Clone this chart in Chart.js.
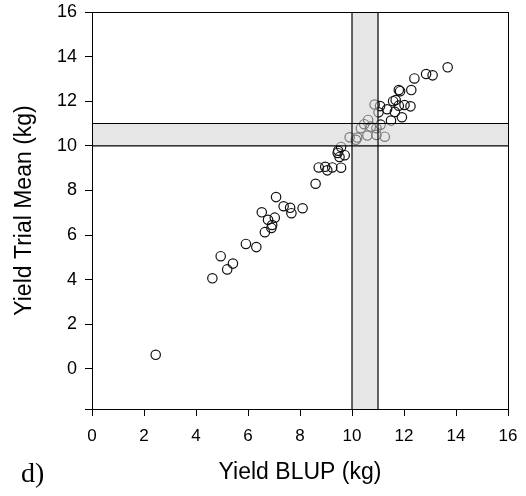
<!DOCTYPE html>
<html>
<head>
<meta charset="utf-8">
<script src="https://cdn.jsdelivr.net/npm/chart.js@4/dist/chart.umd.min.js"></script>
<style>
  html, body { margin: 0; padding: 0; background: #fff; }
  #wrap { width: 526px; height: 496px; position: relative; }
</style>
</head>
<body>
<div id="wrap"><canvas id="c" width="526" height="496"></canvas></div>
<script>
// ---- data ----
const blupValues = [2.45, 4.63, 4.95, 5.20, 5.42, 5.92, 6.32, 6.53, 6.65, 6.77, 6.93, 6.90, 7.03, 7.08, 7.37, 7.62, 7.67, 8.10,
  8.60, 8.72, 8.97, 9.05, 9.24, 9.58, 9.45, 9.52, 9.58, 9.72, 9.47, 9.91, 10.15, 10.20, 10.34, 10.47, 10.59, 10.62, 10.72, 10.94,
  10.94, 11.26, 11.10, 10.87, 11.08, 11.02, 11.35, 11.50, 11.58, 11.68, 11.65, 11.80, 12.02, 12.25, 11.92, 11.80, 11.85, 12.28,
  12.40, 12.85, 13.10, 13.68];
const trialValues = [0.63, 4.06, 5.05, 4.46, 4.72, 5.60, 5.46, 7.02, 6.13, 6.68, 6.45, 6.32, 6.78, 7.70, 7.29, 7.22, 6.98, 7.20,
  8.30, 9.03, 9.06, 8.90, 9.03, 9.02, 9.68, 9.50, 9.95, 9.58, 9.78, 10.38, 10.27, 10.37, 10.79, 10.97, 10.46, 11.16, 10.86, 10.79,
  10.49, 10.41, 10.95, 11.85, 11.78, 11.50, 11.64, 11.13, 12.00, 12.05, 11.52, 11.80, 11.83, 11.77, 11.28, 12.50, 12.45, 12.50,
  13.02, 13.22, 13.16, 13.52];
const xBand = [10, 11];   // shaded BLUP band (kg)
const yBand = [10, 11];   // shaded trial-mean band (kg)
const xTicks = [0, 2, 4, 6, 8, 10, 12, 14, 16];
const yTicks = [0, 2, 4, 6, 8, 10, 12, 14, 16];
const xRange = [0, 16];
const yRange = [-1.8, 16];

const points = blupValues.map((x, i) => ({ x: x, y: trialValues[i] }));
const bandFill = 'rgba(210,210,210,0.55)';
const edge = { type: 'line', fill: false, borderColor: '#000', borderWidth: 1.2, pointRadius: 0, order: 0 };
const fillDs = { type: 'line', backgroundColor: bandFill, borderWidth: 0, borderColor: 'rgba(0,0,0,0)', pointRadius: 0, order: 1 };
const sans = '"Liberation Sans", Arial, sans-serif';

const frame = {
  id: 'frame',
  afterDraw(chart) {
    const { ctx, chartArea: a } = chart;
    ctx.save();
    ctx.strokeStyle = '#000';
    ctx.lineWidth = 1;
    ctx.strokeRect(Math.round(a.left) + 0.5, Math.round(a.top) + 0.5, Math.round(a.right - a.left), Math.round(a.bottom - a.top));
    ctx.fillStyle = '#000';
    ctx.font = '28px "Liberation Serif", "Times New Roman", serif';
    ctx.textBaseline = 'alphabetic';
    ctx.fillText('d)', 21, 482);
    ctx.restore();
  }
};

new Chart(document.getElementById('c'), {
  type: 'scatter',
  data: {
    datasets: [
      { data: points, pointRadius: 4.7, pointBorderWidth: 1.2, pointBorderColor: '#111', pointBackgroundColor: 'rgba(0,0,0,0)', order: 10 },
      Object.assign({}, fillDs, { data: [{ x: xRange[0], y: yBand[1] }, { x: xRange[1], y: yBand[1] }], fill: { value: yBand[0] } }),
      Object.assign({}, fillDs, { data: [{ x: xBand[0], y: yRange[1] }, { x: xBand[1], y: yRange[1] }], fill: { value: yBand[1] } }),
      Object.assign({}, fillDs, { data: [{ x: xBand[0], y: yBand[0] }, { x: xBand[1], y: yBand[0] }], fill: 'start' }),
      Object.assign({}, edge, { data: [{ x: xRange[0], y: yBand[0] }, { x: xRange[1], y: yBand[0] }] }),
      Object.assign({}, edge, { data: [{ x: xRange[0], y: yBand[1] }, { x: xRange[1], y: yBand[1] }] }),
      Object.assign({}, edge, { data: [{ x: xBand[0], y: yRange[0] }, { x: xBand[0], y: yRange[1] }] }),
      Object.assign({}, edge, { data: [{ x: xBand[1], y: yRange[0] }, { x: xBand[1], y: yRange[1] }] })
    ]
  },
  options: {
    responsive: false,
    animation: false,
    layout: { padding: { top: 12, right: 18, bottom: 0, left: 0 } },
    plugins: {
      legend: { display: false },
      tooltip: { enabled: false },
      filler: { drawTime: 'beforeDatasetDraw' }
    },
    scales: {
      x: {
        type: 'linear', min: xRange[0], max: xRange[1],
        afterBuildTicks: (ax) => { ax.ticks = xTicks.map(v => ({ value: v })); },
        afterFit: (ax) => { ax.height = 87; ax.paddingLeft = 0; ax.paddingRight = 0; },
        ticks: { color: '#000', padding: 10, maxRotation: 0, font: { family: sans, size: 17 } },
        grid: { drawOnChartArea: false, drawTicks: true, tickLength: 7, tickColor: '#000', tickWidth: 1 },
        border: { display: true, color: '#000', width: 1 },
        title: { display: true, text: 'Yield BLUP (kg)', color: '#000', padding: { top: 0, bottom: 10 },
          font: { family: sans, size: 23 } }
      },
      y: {
        type: 'linear', min: yRange[0], max: yRange[1],
        afterBuildTicks: (ax) => { ax.ticks = [yRange[0]].concat(yTicks).map(v => ({ value: v })); },
        afterFit: (ax) => { ax.width = 92; ax.paddingTop = 0; ax.paddingBottom = 0; },
        ticks: { color: '#000', padding: 8, font: { family: sans, size: 18 },
          callback: (v) => yTicks.includes(v) ? String(v) : '' },
        grid: { drawOnChartArea: false, drawTicks: true, tickLength: 7, tickColor: '#000', tickWidth: 1 },
        border: { display: true, color: '#000', width: 1 },
        title: { display: true, text: 'Yield Trial Mean (kg)', color: '#000', padding: { top: 11, bottom: 0 },
          font: { family: sans, size: 23 } }
      }
    }
  },
  plugins: [frame]
});
</script>
</body>
</html>
